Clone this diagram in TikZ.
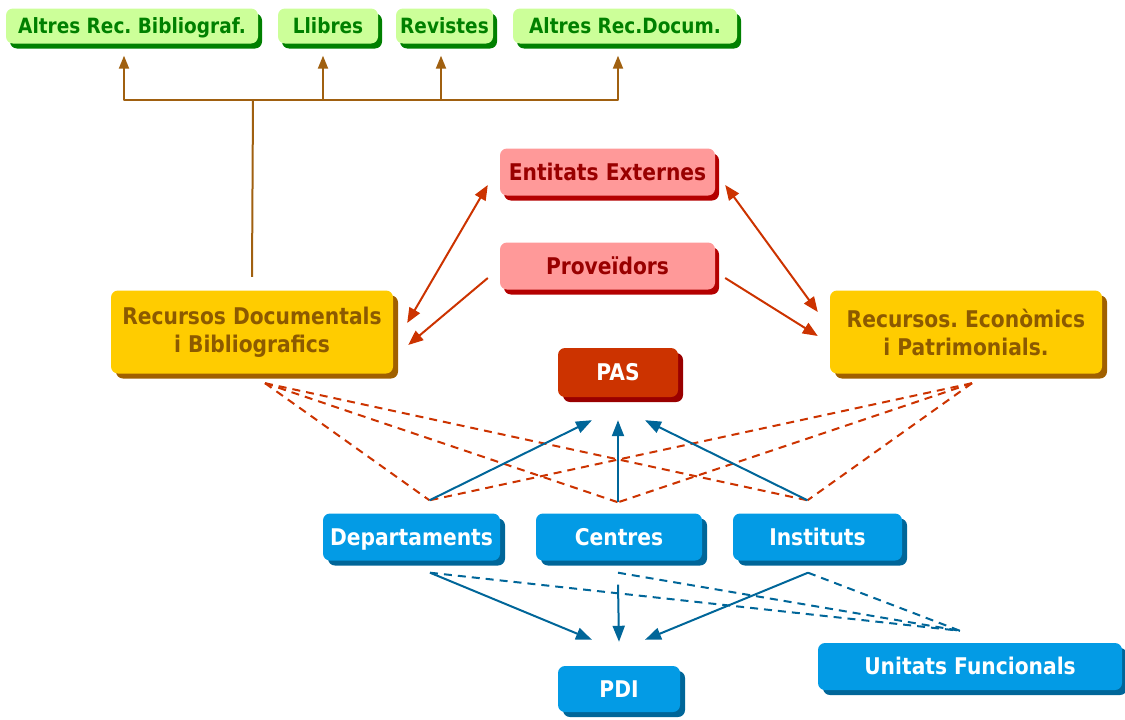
\documentclass[tikz,border=0pt]{standalone}
\usepackage{fontspec}
\setmainfont{DejaVu Sans}[FakeStretch=0.88]
\usetikzlibrary{arrows.meta, shadows, positioning}
\usepackage{xcolor}
\frenchspacing
\definecolor{lightgreen}{RGB}{204,255,153}
\definecolor{darkgreen}{RGB}{0,128,0}
\definecolor{pinkfill}{RGB}{255,153,153}
\definecolor{pinkshade}{RGB}{180,0,0}
\definecolor{pinktext}{RGB}{153,0,0}
\definecolor{goldfill}{RGB}{255,204,0}
\definecolor{goldshade}{RGB}{160,96,0}
\definecolor{goldtext}{RGB}{140,90,0}
\definecolor{pasfill}{RGB}{204,51,0}
\definecolor{passhade}{RGB}{153,0,0}
\definecolor{bluefill}{RGB}{3,155,229}
\definecolor{blueshade}{RGB}{0,102,153}
\definecolor{treebrown}{RGB}{160,96,16}
\definecolor{arrowred}{RGB}{204,51,0}

\begin{document}
\begin{tikzpicture}[
                x=1pt, y=-1pt, line join=bevel,
                basebox/.style={rounded corners=7pt, align=center, inner sep=0pt,
                    font=\fontsize{23}{28}\selectfont\bfseries, minimum height=47pt},
                oneline/.style={text height=17pt, text depth=1pt},
                greenbox/.style={basebox, fill=lightgreen, text=darkgreen, minimum height=35pt,
                    font=\fontsize{21}{26}\selectfont\bfseries, text height=15.5pt, text depth=0.5pt,
                    general shadow={fill=darkgreen, shadow xshift=4pt, shadow yshift=-5pt}},
                pinkbox/.style={basebox, oneline, fill=pinkfill, text=pinktext,
                    general shadow={fill=pinkshade, shadow xshift=4pt, shadow yshift=-5pt}},
                goldbox/.style={basebox, fill=goldfill, text=goldtext, minimum height=83pt,
                    general shadow={fill=goldshade, shadow xshift=5pt, shadow yshift=-5pt}},
                pasbox/.style={basebox, oneline, fill=pasfill, text=white,
                    general shadow={fill=passhade, shadow xshift=5pt, shadow yshift=-5pt}},
                bluebox/.style={basebox, oneline, fill=bluefill, text=white,
                    general shadow={fill=blueshade, shadow xshift=5pt, shadow yshift=-5pt}},
                treeline/.style={treebrown, line width=2pt},
                treearrow/.style={treeline, -{Triangle[length=13pt, width=10pt]}},
                redarrow/.style={arrowred, line width=2pt, -{Triangle[length=15pt, width=12pt]}},
                redboth/.style={redarrow, {Triangle[length=15pt, width=12pt]}-{Triangle[length=15pt, width=12pt]}},
                reddash/.style={arrowred, line width=2pt, dash pattern=on 8pt off 6pt},
                bluearrow/.style={blueshade, line width=2pt, -{Triangle[length=16pt, width=12pt]}},
                bluedash/.style={blueshade, line width=2pt, dash pattern=on 8pt off 6pt}
                ]
                \useasboundingbox (0,0) rectangle (1125,720);

                %% Boxes
                \node[greenbox, minimum width=252pt] (altbib) at (132,26) {Altres Rec. Bibliograf.};
                \node[greenbox, minimum width=100pt] (llibres) at (328,26) {Llibres};
                \node[greenbox, minimum width=97pt] (revistes) at (444.5,26) {Revistes};
                \node[greenbox, minimum width=224pt] (altdoc) at (625,26) {Altres Rec.Docum.};

                \node[pinkbox, minimum width=215pt] (entitats) at (607.5,172) {Entitats Externes};
                \node[pinkbox, minimum width=215pt] (proveidors) at (607.5,266) {Proveïdors};

                \node[goldbox, minimum width=282pt] (recdoc) at (252,332) {Recursos Documentals\\i Bibliografics};
                \node[goldbox, minimum width=272pt] (receco) at (966,332) {Recursos. Econòmics\\i Patrimonials.};

                \node[pasbox, minimum width=120pt, minimum height=49pt] (pas) at (618,372.5) {PAS};

                \node[bluebox, minimum width=177pt] (dept) at (411.5,537) {Departaments};
                \node[bluebox, minimum width=166pt] (centres) at (619,537) {Centres};
                \node[bluebox, minimum width=169pt] (instituts) at (817.5,537) {Instituts};
                \node[bluebox, minimum width=122pt, minimum height=46pt] (pdi) at (619,689) {PDI};
                \node[bluebox, minimum width=304pt] (unitats) at (970,666.5) {Unitats Funcionals};

                %% Meeting points
                \coordinate (fork) at (253,100);
                \coordinate (rdoc) at ([xshift=13pt, yshift=-9.5pt]recdoc.south);
                \coordinate (reco) at ([xshift=6pt, yshift=-9.5pt]receco.south);
                \coordinate (dtop) at ([xshift=18pt, yshift=13pt]dept.north);
                \coordinate (ctop) at ([xshift=-1pt, yshift=11pt]centres.north);
                \coordinate (itop) at ([xshift=-10pt, yshift=13pt]instituts.north);
                \coordinate (dbot) at ([xshift=18.5pt, yshift=-12pt]dept.south);
                \coordinate (cbot) at ([xshift=-1pt, yshift=-12pt]centres.south);
                \coordinate (ibot) at ([xshift=-9.5pt, yshift=-12pt]instituts.south);
                \coordinate (ufun) at ([xshift=-10pt, yshift=12pt]unitats.north);

                %% Tree to the top row
                \draw[treeline] ([yshift=13.5pt]recdoc.north) -- (fork);
                \draw[treearrow] (fork) -| ([xshift=-8pt, yshift=-12pt]altbib.south);
                \draw[treearrow] (fork) -| ([xshift=-5pt, yshift=-12pt]llibres.south);
                \draw[treearrow] (fork) -| ([xshift=-3.5pt, yshift=-12pt]revistes.south);
                \draw[treearrow] (fork) -| ([xshift=-7pt, yshift=-12pt]altdoc.south);

                %% External links
                \draw[redboth] ([xshift=-12pt, yshift=-13pt]entitats.west) -- ([xshift=14pt, yshift=9pt]recdoc.east);
                \draw[redarrow] ([xshift=-12pt, yshift=-12pt]proveidors.west) -- ([xshift=15pt, yshift=-13pt]recdoc.east);
                \draw[redboth] ([xshift=10pt, yshift=-13pt]entitats.east) -- ([xshift=-12pt, yshift=20pt]receco.west);
                \draw[redarrow] ([xshift=10pt, yshift=-12pt]proveidors.east) -- ([xshift=-12pt, yshift=-4pt]receco.west);

                % Resources down to the units
                \foreach \unit in {dtop, ctop, itop} {
                    \draw[reddash] (rdoc) -- (\unit);
                    \draw[reddash] (reco) -- (\unit);
                }

                % Units up to PAS
                \draw[bluearrow] (dtop) -- ([xshift=-26pt, yshift=-23pt]pas.south);
                \draw[bluearrow] (ctop) -- ([yshift=-23pt]pas.south);
                \draw[bluearrow] (itop) -- ([xshift=27pt, yshift=-23pt]pas.south);

                % Units down to PDI and Unitats Funcionals
                \draw[bluearrow] (dbot) -- ([xshift=-27pt, yshift=26pt]pdi.north);
                \draw[bluearrow] ([yshift=-12pt]cbot) -- ([yshift=24pt]pdi.north);
                \draw[bluearrow] (ibot) -- ([xshift=26pt, yshift=26pt]pdi.north);
                \foreach \unit in {dbot, cbot, ibot} {
                    \draw[bluedash] (\unit) -- (ufun);
                }
\end{tikzpicture}
\end{document}
